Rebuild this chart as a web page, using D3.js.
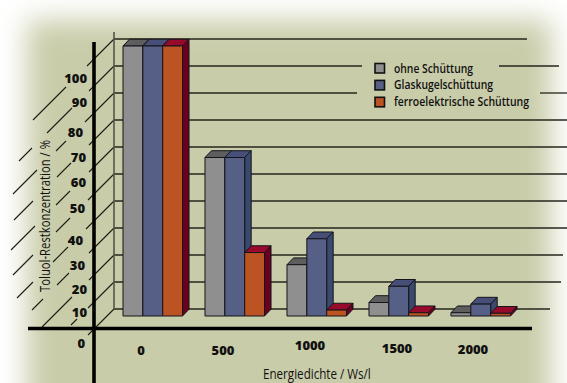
<!DOCTYPE html>
<html>
<head>
<meta charset="utf-8">
<script src="https://cdn.jsdelivr.net/npm/d3@7"></script>
<style>
    html, body { margin: 0; padding: 0; background: #fff; }
    svg { display: block; }
    text { fill: #111; }
    .narrow { font-family: "Open Sans", sans-serif; font-size: 14.5px; font-weight: 500; }
    .legend-item .narrow { font-size: 12.2px; font-weight: 600; }
    .num { font-family: "Open Sans", sans-serif; font-size: 13px; font-weight: 800; }
</style>
</head>
<body>
<svg id="chart" width="567" height="383"></svg>
<script>
// values
const energies = ["0", "500", "1000", "1500", "2000"];
const seriesNames = ["ohne Schüttung", "Glaskugelschüttung", "ferroelektrische Schüttung"];
const ohneValues = [100, 58.7, 19, 5, 1.2];
const glasValues = [100, 58.7, 28.6, 11, 4.4];
const ferroValues = [100, 23.5, 2.2, 1.2, 1];
const percentTicks = [0, 10, 20, 30, 40, 50, 60, 70, 80, 90, 100];

const width = 567, height = 383;
const depthX = 6.5, depthY = 6.8;
const wallX = 114;

// front, top and side face colours of each series
const fronts = ["#8f8f8f", "#565f85", "#bb5323"];
const tops = ["#5e5e5e", "#474f78", "#980a2b"];
const sides = ["#4e4e4e", "#394a6e", "#690021"];

const x = d3.scaleBand().domain(energies).range([123, 510.5]).paddingInner(0.274).paddingOuter(0);
const xSeries = d3.scaleBand().domain(d3.range(3)).range([0, x.bandwidth()]);
const y = d3.scaleLinear().domain([0, 100]).range([316, 46]);
const wallY = v => y(v) - 7;

const svg = d3.select("#chart");

// washed out background
const defs = svg.append("defs");
defs.append("filter").attr("id", "soft")
    .attr("x", "-15%").attr("y", "-15%").attr("width", "130%").attr("height", "130%")
    .append("feGaussianBlur").attr("stdDeviation", 14);
svg.append("rect").attr("width", width).attr("height", height).attr("fill", "#fff");
svg.append("rect")
    .attr("x", 27).attr("y", 20).attr("width", 524).attr("height", 420)
    .attr("fill", "#c9cca9")
    .attr("filter", "url(#soft)");

// back wall lines, broken where the legend sits
const rightBreaks = {
    100: [[wallX, 527]],
    90: [[wallX, 362], [499, 559]],
    80: [[wallX, 357], [540, 567]],
    20: [[wallX, 563]],
    10: [[wallX, 561]],
    0: [[wallX, 550]]
};
percentTicks.forEach(v => {
    (rightBreaks[v] || [[wallX, 567]]).forEach(s => {
        svg.append("line")
            .attr("x1", s[0]).attr("x2", s[1])
            .attr("y1", wallY(v)).attr("y2", wallY(v))
            .attr("stroke", "#26261c").attr("stroke-width", 1.3);
    });
});

// side wall diagonals, broken around labels and title (x ranges)
const sideBreaks = {
    100: [[114, 87], [66, 33]],
    90: [[114, 89], [72, 47], [32, 19]],
    80: [[114, 85], [66, 56], [37, 13]],
    70: [[114, 89], [71, 57], [33, 14]],
    60: [[114, 89], [70, 56], [35, 11]],
    50: [[114, 88], [70, 56], [33, 13]],
    40: [[114, 86], [68, 53], [33, 17]],
    30: [[114, 89], [69, 57], [43, 32]],
    20: [[114, 89], [72, 42]],
    10: [[114, 88], [77, 71]],
    0: [[114, 88]]
};
percentTicks.forEach(v => {
    sideBreaks[v].forEach(s => {
        svg.append("line")
            .attr("x1", s[0]).attr("x2", s[1])
            .attr("y1", wallY(v) + wallX - s[0]).attr("y2", wallY(v) + wallX - s[1])
            .attr("stroke", "#1c1c14").attr("stroke-width", 1.1);
    });
});

svg.append("line")
    .attr("x1", wallX).attr("x2", wallX).attr("y1", 32).attr("y2", wallY(0))
    .attr("stroke", "#55554a").attr("stroke-width", 1.6);

// bars, painted left to right so every front hides the side of its neighbour
const allValues = [ohneValues, glasValues, ferroValues];
energies.forEach((energy, i) => {
    const g = svg.append("g").attr("transform", `translate(${x(energy)},0)`);
    allValues.forEach((values, s) => {
        const left = xSeries(s), right = left + xSeries.bandwidth();
        const top = y(values[i]), base = y(0);
        const face = (points, fill) => g.append("polygon")
            .attr("points", points.map(p => p.join(",")).join(" "))
            .attr("fill", fill)
            .attr("stroke", "#15151a").attr("stroke-width", 1).attr("stroke-linejoin", "round");
        face([[left, top], [right, top], [right + depthX, top - depthY], [left + depthX, top - depthY]], tops[s]);
        face([[right, top], [right + depthX, top - depthY], [right + depthX, base - depthY], [right, base]], sides[s]);
        face([[left, top], [right, top], [right, base], [left, base]], fronts[s]);
    });
});

// thick axes in front of the floor
svg.append("line").attr("x1", 28).attr("x2", 532).attr("y1", 328.5).attr("y2", 328.5)
    .attr("stroke", "#000").attr("stroke-width", 3.6);
svg.append("line").attr("x1", 94).attr("x2", 94).attr("y1", 42).attr("y2", height)
    .attr("stroke", "#000").attr("stroke-width", 3.6);

// tick labels are hand placed in the original, so they get nudged off the scale
const yNudge = {100: [87, 78], 90: [87, 102], 80: [83, 132], 70: [86, 157], 60: [86, 182], 50: [85, 208],
    40: [83, 240], 30: [85, 265], 20: [87, 289], 10: [87, 312], 0: [85, 343]};
const yAxis = d3.axisLeft(y).tickValues(percentTicks).tickSize(0).tickFormat(d3.format("d"));
const yAxisG = svg.append("g").call(yAxis);
yAxisG.select(".domain").remove();
yAxisG.selectAll(".tick").attr("transform", d => `translate(${yNudge[d][0]},${yNudge[d][1]})`);
yAxisG.selectAll("text").attr("class", "num").attr("x", 0).attr("dy", "0.35em").attr("fill", "#111");

const xNudge = {"0": [141, 350], "500": [223, 350], "1000": [310, 345], "1500": [397, 348], "2000": [473, 349]};
const xAxis = d3.axisBottom(x).tickSize(0);
const xAxisG = svg.append("g").call(xAxis);
xAxisG.select(".domain").remove();
xAxisG.selectAll(".tick").attr("transform", d => `translate(${xNudge[d][0]},${xNudge[d][1]})`);
xAxisG.selectAll("text").attr("class", "num").attr("y", 0).attr("dy", "0.35em").attr("fill", "#111");

// the original uses a condensed face, so squeeze the text sideways to the measured length
function squeezed(parent, label, targetLength, place) {
    const t = parent.append("text").attr("class", "narrow").text(label);
    const sx = targetLength / t.node().getComputedTextLength();
    t.attr("transform", `${place} scale(${sx},1)`);
    return t;
}

// axis titles
squeezed(svg, "Toluol-Restkonzentration / %", 152, "translate(50,292) rotate(-90)");
squeezed(svg, "Energiedichte / Ws/l", 108, "translate(263,379)");

// legend
const legendWidths = [79, 99, 135];
seriesNames.forEach((name, i) => {
    const item = svg.append("g")
        .attr("class", "legend-item")
        .attr("transform", `translate(375,${63.5 + i * 16.9})`);
    item.append("rect")
        .attr("width", 9.5).attr("height", 9.5)
        .attr("fill", fronts[i])
        .attr("stroke", "#111").attr("stroke-width", 1.6);
    squeezed(item, name, legendWidths[i], "translate(19,9)");
});
</script>
</body>
</html>
